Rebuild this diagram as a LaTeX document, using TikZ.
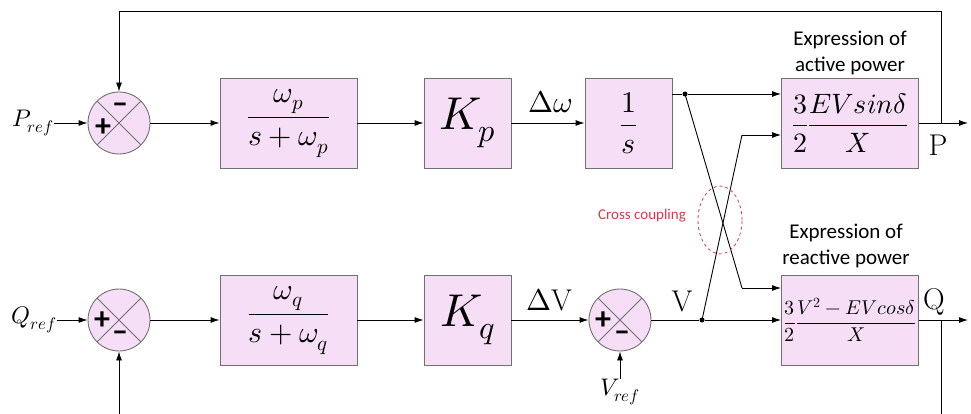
\documentclass[tikz,border=0pt]{standalone}
\usepackage{fontspec}
\usepackage{unicode-math}
\setmathfont{Latin Modern Math}
\setsansfont{Carlito}
\usetikzlibrary{arrows.meta,calc,shapes.geometric}
\definecolor{blkfill}{RGB}{246,222,246}
\definecolor{blkline}{RGB}{112,112,112}
\definecolor{coupred}{RGB}{214,58,74}

\begin{document}
\begin{tikzpicture}[x=1pt, y=-1pt,
  blk/.style={draw=blkline, fill=blkfill, line width=0.9pt, inner sep=0pt,
              minimum width=137pt, minimum height=90pt},
  gain/.style={blk, minimum width=87pt},
  sumnode/.style={circle, draw=blkline, fill=blkfill, line width=0.9pt,
              minimum size=62pt, inner sep=0pt,
              path picture={\draw[blkline, line width=0.9pt]
                (path picture bounding box.north west) -- (path picture bounding box.south east)
                (path picture bounding box.north east) -- (path picture bounding box.south west);}},
  sgn/.style={font=\fontsize{32}{32}\selectfont\sffamily\bfseries, inner sep=0pt},
  sig/.style={font=\fontsize{30}{32}\selectfont, inner sep=0pt},
  refl/.style={font=\fontsize{24}{26}\selectfont, inner sep=0pt},
  capt/.style={font=\fontsize{21}{26}\selectfont\sffamily, align=center, inner sep=0pt},
  arr/.style={-{Latex[length=9pt,width=6pt]}, line width=0.9pt},
  wire/.style={line width=0.9pt},
  junc/.style={circle, fill, inner sep=0pt, minimum size=5pt}]

\clip (0,0) rectangle (971,414);

% ---------- active power channel ----------
\node[sumnode] (sp) at (119,123) {};
\node[sgn] at ($(sp)+(-16,5)$) {+};
\node[sgn] at ($(sp)+(1,-15)$) {--};
\node[refl] (pref) at (33,123) {$P_{ref}$};
\node[blk] (fp) at (288.5,123)
  {\fontsize{30}{36}\selectfont$\dfrac{\omega_p}{s+\omega_p}$};
\node[gain] (kp) at (467.5,123) {\fontsize{46}{50}\selectfont$K_p$};
\node[gain] (integ) at (628.5,123) {\fontsize{30}{36}\selectfont$\dfrac{1}{s}$};
\node[blk] (pexp) at (850,123)
  {\fontsize{28}{34}\selectfont$\dfrac{3}{2}\dfrac{EV sin\delta}{X}$};
\node[sig] (dwl) at (550,102) {$\Delta\omega$};
\node[sig] (pl) at (938,145) {P};
\node[capt] (pcap) at (850,53) {Expression of\\active power};

% ---------- reactive power channel ----------
\node[sumnode] (sq) at (119,320) {};
\node[sgn] at ($(sq)+(-17,1)$) {+};
\node[sgn] at ($(sq)+(1,16)$) {--};
\node[refl] (qref) at (34,320) {$Q_{ref}$};
\node[blk] (fq) at (288.5,320)
  {\fontsize{30}{36}\selectfont$\dfrac{\omega_q}{s+\omega_q}$};
\node[gain] (kq) at (467.5,320) {\fontsize{46}{50}\selectfont$K_q$};
\node[sumnode] (sv) at (620,320) {};
\node[sgn] at ($(sv)+(-17,1)$) {+};
\node[sgn] at ($(sv)+(2,16)$) {--};
\node[refl] (vref) at (620,392) {$V_{ref}$};
\node[blk] (qexp) at (850,320)
  {\fontsize{20}{24}\selectfont$\dfrac{3}{2}\dfrac{V^2-EV cos\delta}{X}$};
\node[sig] (dvl) at (549,300) {$\Delta$V};
\node[sig] (vl) at (682,301) {V};
\node[sig] (ql) at (934,302) {Q};
\node[capt] (qcap) at (846,246) {Expression of\\reactive power};

% ---------- forward paths ----------
\draw[arr] (pref) -- (sp);
\draw[arr] (sp) -- (fp);
\draw[arr] (fp) -- (kp);
\draw[arr] (kp) -- (integ);
\draw[arr] (qref) -- (sq);
\draw[arr] (sq) -- (fq);
\draw[arr] (fq) -- (kq);
\draw[arr] (kq) -- (sv);
\draw[arr] (vref) -- (sv);

% ---------- cross coupling ----------
\node[junc] (dp) at (685,94) {};
\node[junc] (dv) at (702,320) {};
\coordinate (ka) at (742,288);
\coordinate (kb) at (742,135);
\draw[wire] (integ.east |- dp) -- (dp);
\draw[arr] (dp) -- (pexp.west |- dp);
\draw[wire] (sv) -- (dv);
\draw[arr] (dv) -- (qexp);
\draw[wire] (dp.center) -- (ka);
\draw[arr] (ka) -- (qexp.west |- ka);
\draw[wire] (dv.center) -- (kb);
\draw[arr] (kb) -- (pexp.west |- kb);
\node[ellipse, draw=coupred, dashed, line width=0.8pt, minimum width=44pt,
      minimum height=68pt] (cc) at (720,220) {};
\node[font=\fontsize{15}{16}\selectfont\sffamily, text=coupred] (cctxt) at (642,216)
  {Cross coupling};

% ---------- outputs and feedback ----------
\coordinate (po) at (968,123);
\coordinate (tp) at (941,123);
\coordinate (ptop) at (941,11);
\draw[arr] (pexp) -- (po);
\draw[arr] (tp) -- (ptop) -| (sp);
\coordinate (qo) at (968,320);
\coordinate (tq) at (941,320);
\coordinate (qbot) at (941,440);
\draw[arr] (qexp) -- (qo);
\draw[arr] (tq) -- (qbot) -| (sq);
\end{tikzpicture}
\end{document}
